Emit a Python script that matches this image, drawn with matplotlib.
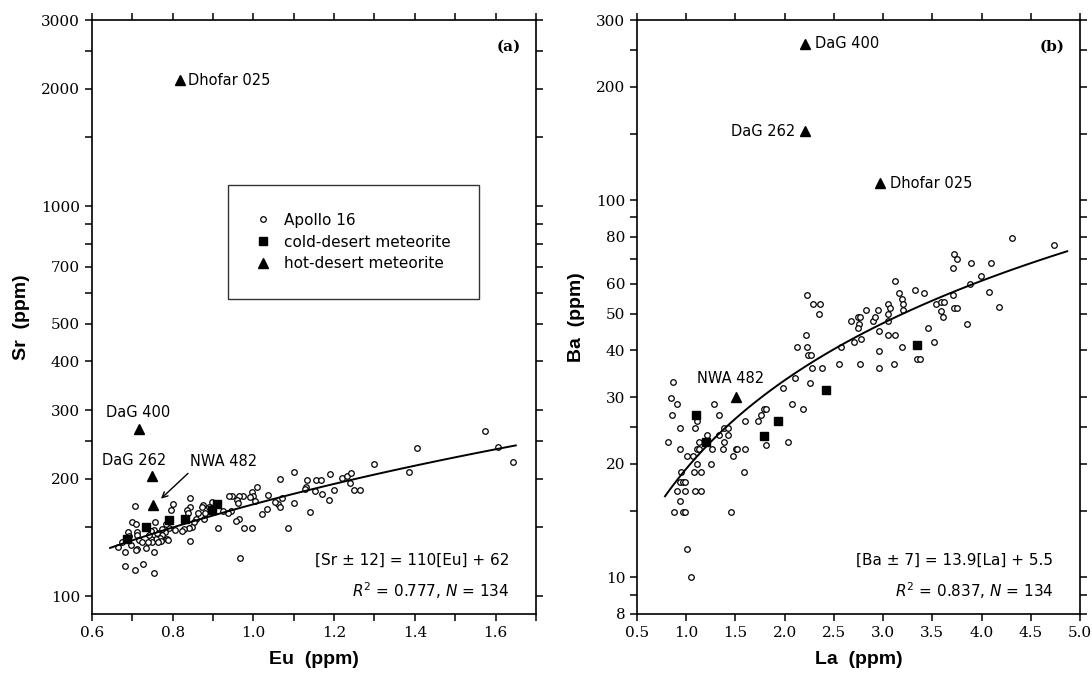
import numpy as np
import matplotlib
matplotlib.use('Agg')
import matplotlib.pyplot as plt
from matplotlib.ticker import FixedLocator, NullFormatter, FixedFormatter

# ---- data: panel (a), Eu vs Sr ----
eu_apollo = [1.066, 1.101, 1.009, 0.996, 0.999, 1.004, 0.991, 0.975, 0.964, 0.948,
             0.940, 0.960, 0.963, 0.944, 0.936, 1.037, 1.060, 1.053, 1.072, 1.100,
             1.067, 1.034, 1.022, 1.086, 0.997, 0.976, 0.964, 0.957, 0.925, 0.913,
             0.897, 0.890, 0.876, 0.872, 0.880, 0.863, 0.877, 0.858, 0.852, 0.843,
             0.842, 0.835, 0.839, 0.847, 0.840, 0.829, 0.822, 0.806, 0.802, 0.797,
             0.791, 0.783, 0.781, 0.773, 0.773, 0.768, 0.770, 0.760, 0.758, 0.757,
             0.754, 0.746, 0.746, 0.750, 0.742, 0.786, 0.789, 0.764, 0.842, 0.707,
             0.698, 0.709, 0.690, 0.692, 0.711, 0.712, 0.717, 0.723, 0.697, 0.712,
             0.708, 0.735, 0.754, 0.683, 0.665, 0.675, 0.967, 0.681, 0.706, 0.726,
             0.754, 0.740,
             1.574, 1.606, 1.644, 1.406, 1.385, 1.300, 1.134, 1.155, 1.167, 1.130,
             1.128, 1.152, 1.169, 1.190, 1.200, 1.188, 1.140, 1.219, 1.231, 1.243,
             1.239, 1.248, 1.264]
sr_apollo = [200, 208.7, 190, 185, 181, 175.5, 180, 181, 181, 181,
             181, 176.5, 173, 165.3, 163.8, 181.5, 172.3, 174.8, 179, 173,
             169.6, 167, 162, 149.8, 149.8, 149.8, 157.8, 155.8, 165.3, 149.3,
             174.8, 169.3, 171.3, 169.6, 163, 163, 157.8, 157.8, 155.3, 179,
             169.6, 166.3, 163.5, 150.3, 149.8, 148.6, 146.8, 147.8, 172, 166.3,
             149.8, 152.8, 145.8, 148.6, 143.4, 141.1, 138.6, 144.8, 140, 154.6,
             147.8, 146.8, 140, 137.9, 143.4, 140, 139, 137.9, 138.6, 170.3,
             154.6, 152.8, 145.8, 142.8, 145.8, 143.4, 139.3, 137.4, 135.1, 131.8,
             131, 132.6, 129.9, 129.4, 133.8, 137.4, 125.6, 119.7, 116.6, 120.6,
             114.4, 137.9,
             264.5, 241.8, 220.5, 239.7, 208.7, 218.7, 198.4, 198.4, 198.4, 191,
             188.5, 186, 183.1, 205.5, 187, 176.7, 164.6, 200.6, 202.7, 206.6,
             195.6, 187.4, 187.4]
eu_cold = [0.687, 0.734, 0.791, 0.830, 0.897, 0.909]
sr_cold = [140.2, 150, 157, 157.7, 166, 172.6]
eu_hot = [0.716, 0.749, 0.751, 0.818]
sr_hot = [268, 203, 171, 2100]

# ---- data: panel (b), La vs Ba ----
la_apollo = [0.869, 0.846, 0.903, 0.852, 0.940, 0.812, 0.934, 1.012, 1.073, 1.089,
             1.113, 1.130, 1.106, 1.133, 1.215, 1.283, 1.337, 1.388, 1.425, 1.428,
             1.337, 1.384, 1.259, 1.377, 1.472, 1.503, 1.516, 1.598, 1.598, 1.733,
             1.757, 1.791, 1.811, 1.808, 1.249, 1.106, 1.083, 1.147, 0.951, 0.937,
             0.964, 0.991, 0.910, 0.991, 1.089, 1.147, 0.937, 0.876, 0.964, 0.988,
             1.452, 1.591, 1.012, 1.052, 1.980, 2.072, 2.102, 2.129, 2.031,
             3.725, 3.755, 3.708, 3.122, 3.322, 3.413, 3.163, 3.193, 3.203, 3.200,
             3.047, 3.071, 3.051, 2.953, 3.047, 2.224, 2.285, 2.363, 2.350, 2.214,
             2.224, 2.234, 2.265, 2.275, 2.383, 2.255, 2.184, 2.553, 2.766, 2.956,
             3.115, 3.196, 2.956, 3.054, 3.125, 2.963, 2.773, 2.705, 2.577, 2.675,
             2.743, 2.770, 2.756, 2.743, 2.827, 2.902, 2.919, 3.454, 3.515, 3.342,
             3.376, 3.539, 3.586, 3.623, 3.593, 3.613, 3.708, 3.725, 3.749,
             4.314, 4.731, 3.891, 4.097, 3.999, 3.880, 4.077, 4.182, 3.850]
ba_apollo = [32.9, 29.9, 28.9, 26.9, 24.9, 22.9, 21.9, 21.0, 21.0, 24.9,
             25.9, 22.9, 21.9, 21.9, 23.9, 28.9, 26.9, 24.9, 24.9, 23.9,
             23.9, 22.9, 21.9, 21.9, 21.0, 21.9, 21.9, 21.9, 25.9, 25.9,
             26.9, 27.9, 27.9, 22.5, 20.0, 20.0, 19.0, 19.0, 19.0, 17.9,
             17.9, 17.9, 16.9, 16.9, 16.9, 16.9, 15.9, 14.9, 14.9, 14.9,
             14.9, 19.0, 11.9, 10.0, 31.8, 28.9, 33.8, 40.9, 22.9,
             72.0, 70.0, 65.9, 60.9, 57.9, 56.9, 56.9, 54.8, 52.9, 51.0,
             52.9, 51.8, 50.0, 51.0, 47.9, 55.9, 52.9, 52.9, 50.0, 44.0,
             40.9, 38.8, 38.8, 35.9, 35.9, 32.8, 27.9, 36.8, 36.8, 35.9,
             36.8, 40.9, 39.9, 43.9, 43.9, 44.9, 42.9, 42.0, 40.9, 47.9,
             48.9, 48.9, 46.9, 45.8, 51.0, 47.9, 48.9, 45.8, 42.0, 37.9,
             37.9, 53.1, 53.8, 53.8, 50.8, 48.9, 55.9, 51.9, 51.9,
             79.2, 76.0, 68.0, 68.0, 63.0, 60.1, 57.1, 52.0, 47.0]
la_cold = [1.10, 1.20, 1.79, 1.93, 2.42, 3.34]
ba_cold = [26.9, 22.9, 23.7, 25.9, 31.4, 41.3]
la_hot = [1.51, 2.21, 2.21, 2.97]
ba_hot = [30.0, 152, 260, 110.8]

fig = plt.figure(figsize=(10.92, 6.78), dpi=100)
ax1 = fig.add_axes([0.0842, 0.0944, 0.4066, 0.876])
ax2 = fig.add_axes([0.5833, 0.0944, 0.4057, 0.876])

label_font = {'family': 'Liberation Sans', 'size': 14, 'weight': 'bold'}
name_font = {'family': 'DejaVu Sans', 'size': 10.5}


def style_axis(ax):
    for sp in ax.spines.values():
        sp.set_linewidth(1.2)
    ax.tick_params(which='both', direction='out', top=True, right=True,
                   width=1.1, length=5, labelsize=11)
    for lab in ax.get_xticklabels() + ax.get_yticklabels():
        lab.set_fontfamily('DejaVu Serif')


# ---- panel (a) ----
ax1.set_yscale('log')
ax1.plot(eu_apollo, sr_apollo, 'o', ms=4.0, mfc='white', mec='black', mew=0.9, label='Apollo 16')
ax1.plot(eu_cold, sr_cold, 's', ms=6, color='black', label='cold-desert meteorite')
ax1.plot(eu_hot, sr_hot, '^', ms=6.5, color='black', label='hot-desert meteorite')

eu_fit = np.linspace(0.645, 1.65, 50)
ax1.plot(eu_fit, 110 * eu_fit + 62, color='black', lw=1.4)

ax1.set_xlim(0.6, 1.7)
ax1.set_ylim(90, 3000)
ax1.xaxis.set_major_locator(FixedLocator([0.6, 0.8, 1.0, 1.2, 1.4, 1.6]))
ax1.xaxis.set_minor_locator(FixedLocator([0.7, 0.9, 1.1, 1.3, 1.5, 1.7]))
ax1.xaxis.set_major_formatter(FixedFormatter(['0.6', '0.8', '1.0', '1.2', '1.4', '1.6']))
sr_major = [100, 200, 300, 400, 500, 700, 1000, 2000, 3000]
ax1.yaxis.set_major_locator(FixedLocator(sr_major))
ax1.yaxis.set_major_formatter(FixedFormatter([str(v) for v in sr_major]))
ax1.yaxis.set_minor_locator(FixedLocator([150, 250, 600, 800, 900, 1500, 2500]))
ax1.yaxis.set_minor_formatter(NullFormatter())
style_axis(ax1)

ax1.set_xlabel('Eu  (ppm)', fontdict=label_font, labelpad=8)
ax1.set_ylabel('Sr  (ppm)', fontdict=label_font, labelpad=8)

ax1.text(0.818 + 0.02, 2100, 'Dhofar 025', fontdict=name_font, va='center', ha='left')
ax1.text(0.714, 295, 'DaG 400', fontdict=name_font, va='center', ha='center')
ax1.text(0.704, 223, 'DaG 262', fontdict=name_font, va='center', ha='center')
ax1.text(0.925, 221, 'NWA 482', fontdict=name_font, va='center', ha='center')
ax1.annotate('', xy=(0.766, 175.8), xytext=(0.843, 208.8),
             arrowprops=dict(arrowstyle='->', color='black', lw=1.0))

ax1.text(0.94, 0.091, '[Sr \u00b1 12] = 110[Eu] + 62', transform=ax1.transAxes,
         ha='right', va='center', fontsize=11)
ax1.text(0.94, 0.040, r'$R^2$ = 0.777, $N$ = 134', transform=ax1.transAxes,
         ha='right', va='center', fontsize=11)
ax1.text(0.965, 0.955, '(a)', transform=ax1.transAxes, ha='right', va='center',
         fontsize=11, fontweight='bold', family='DejaVu Serif')

leg = ax1.legend(loc='upper left', bbox_to_anchor=(0.306, 0.722), frameon=True,
                 fancybox=False, edgecolor='black', fontsize=11, borderpad=1.8,
                 labelspacing=0.45, handlelength=1.0, handletextpad=0.9,
                 borderaxespad=0)
leg.get_frame().set_linewidth(1.0)

# ---- panel (b) ----
ax2.set_yscale('log')
ax2.plot(la_apollo, ba_apollo, 'o', ms=4.0, mfc='white', mec='black', mew=0.9)
ax2.plot(la_cold, ba_cold, 's', ms=6, color='black')
ax2.plot(la_hot, ba_hot, '^', ms=6.5, color='black')

la_fit = np.linspace(0.785, 4.87, 80)
ax2.plot(la_fit, 13.9 * la_fit + 5.5, color='black', lw=1.4)

ax2.set_xlim(0.5, 5.0)
ax2.set_ylim(8, 300)
la_major = [0.5, 1.0, 1.5, 2.0, 2.5, 3.0, 3.5, 4.0, 4.5, 5.0]
ax2.xaxis.set_major_locator(FixedLocator(la_major))
ax2.xaxis.set_major_formatter(FixedFormatter(['%.1f' % v for v in la_major]))
ba_major = [8, 10, 20, 30, 40, 50, 60, 80, 100, 200, 300]
ax2.yaxis.set_major_locator(FixedLocator(ba_major))
ax2.yaxis.set_major_formatter(FixedFormatter([str(v) for v in ba_major]))
ax2.yaxis.set_minor_locator(FixedLocator([9, 15, 25, 70, 90, 150, 250]))
ax2.yaxis.set_minor_formatter(NullFormatter())
style_axis(ax2)

ax2.set_xlabel('La  (ppm)', fontdict=label_font, labelpad=8)
ax2.set_ylabel('Ba  (ppm)', fontdict=label_font, labelpad=8)

ax2.text(2.21 + 0.1, 260, 'DaG 400', fontdict=name_font, va='center', ha='left')
ax2.text(2.21 - 0.1, 152, 'DaG 262', fontdict=name_font, va='center', ha='right')
ax2.text(2.97 + 0.1, 110.8, 'Dhofar 025', fontdict=name_font, va='center', ha='left')
ax2.text(1.453, 33.6, 'NWA 482', fontdict=name_font, va='center', ha='center')

ax2.text(0.94, 0.091, '[Ba \u00b1 7] = 13.9[La] + 5.5', transform=ax2.transAxes,
         ha='right', va='center', fontsize=11)
ax2.text(0.94, 0.040, r'$R^2$ = 0.837, $N$ = 134', transform=ax2.transAxes,
         ha='right', va='center', fontsize=11)
ax2.text(0.965, 0.955, '(b)', transform=ax2.transAxes, ha='right', va='center',
         fontsize=11, fontweight='bold', family='DejaVu Serif')

fig.savefig('out.png', dpi=100)
